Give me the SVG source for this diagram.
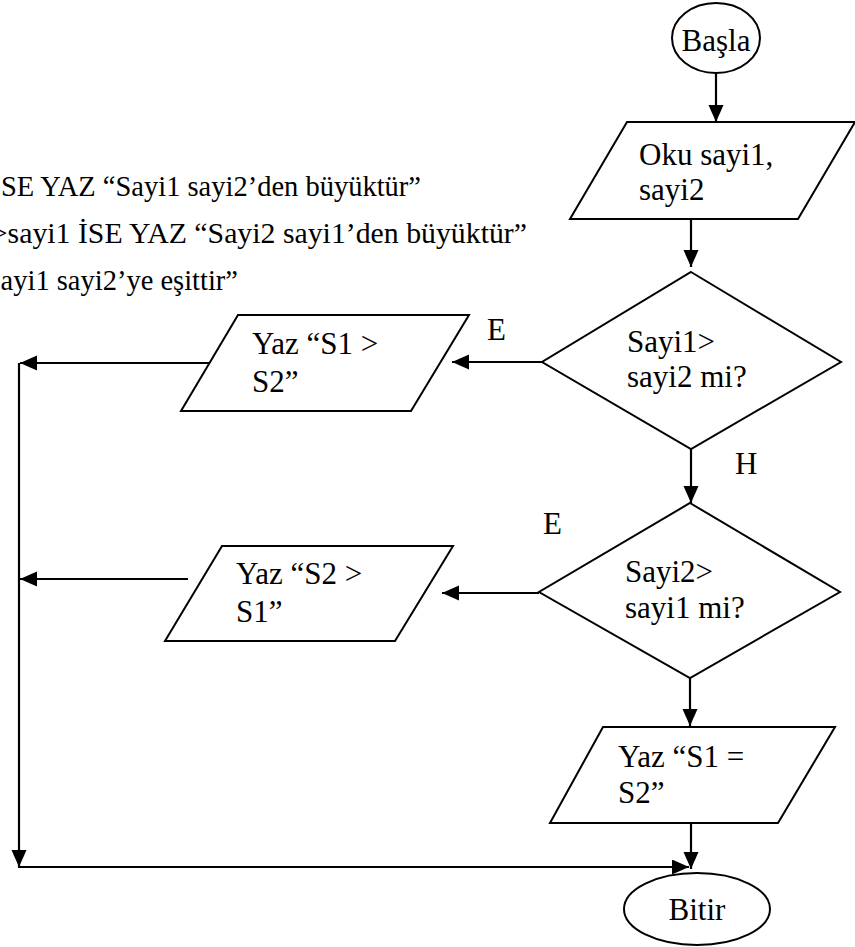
<svg xmlns="http://www.w3.org/2000/svg" width="855" height="947" viewBox="0 0 855 947">
<style>
.s{fill:#fff;stroke:#000;stroke-width:2}
.c{fill:none;stroke:#000;stroke-width:2.2}
.t{font-size:31px}
.m{font-size:28.5px}
</style>
<defs>
<marker id="ah" markerUnits="userSpaceOnUse" markerWidth="18" markerHeight="16" refX="17" refY="7.5" orient="auto">
<path d="M0,0 L17,7.5 L0,15 z" fill="#000"/>
</marker>
</defs>
<rect width="855" height="947" fill="#fff"/>
<g font-family="'Liberation Serif', 'Times New Roman', 'DejaVu Serif', serif" fill="#000">
<g id="notes">
<text class="m" x="421" y="196" text-anchor="end">SE YAZ “Sayi1 sayi2’den büyüktür”</text>
<text x="527" y="243" text-anchor="end" style="font-size:29.8px">&gt;sayi1 İSE YAZ “Sayi2 sayi1’den büyüktür”</text>
<text class="m" x="238" y="290" text-anchor="end">ayi1 sayi2’ye eşittir”</text>
</g>
<g id="connectors">
<path class="c" d="M716,73 V122" marker-end="url(#ah)"/>
<path class="c" d="M691,219 V267" marker-end="url(#ah)"/>
<path class="c" d="M542,362 H452" marker-end="url(#ah)"/>
<path class="c" d="M210,363 H20" marker-end="url(#ah)"/>
<path class="c" d="M19,363 V867" marker-end="url(#ah)"/>
<path class="c" d="M691,449 V503" marker-end="url(#ah)"/>
<path class="c" d="M539,593 H442" marker-end="url(#ah)"/>
<path class="c" d="M188,579 H20" marker-end="url(#ah)"/>
<path class="c" d="M690,678 V726" marker-end="url(#ah)"/>
<path class="c" d="M691,823 V869" marker-end="url(#ah)"/>
<path class="c" d="M18,867 H689" marker-end="url(#ah)"/>
</g>
<g id="label-E1"><text class="t" x="487" y="340">E</text></g>
<g id="label-H"><text class="t" x="735" y="474">H</text></g>
<g id="label-E2"><text class="t" x="543" y="534">E</text></g>
<g id="start">
<ellipse class="s" cx="716" cy="38" rx="44" ry="35"/>
<text class="t" x="716" y="51" text-anchor="middle">Başla</text>
</g>
<g id="read">
<polygon class="s" points="627,122 855,122 798,219 570,219"/>
<text class="t" x="639" y="165">Oku sayi1,</text>
<text class="t" x="639" y="200">sayi2</text>
</g>
<g id="decision1">
<polygon class="s" points="691,272 841,362 691,449 542,362"/>
<text class="t" x="627" y="352">Sayi1&gt;</text>
<text class="t" x="627" y="387">sayi2 mi?</text>
</g>
<g id="out1">
<polygon class="s" points="238,315 469,315 411,411 181,411"/>
<text class="t" x="252" y="354">Yaz “S1 &gt;</text>
<text class="t" x="252" y="392">S2”</text>
</g>
<g id="decision2">
<polygon class="s" points="690,503 840,592 690,678 539,592"/>
<text class="t" x="625" y="582">Sayi2&gt;</text>
<text class="t" x="625" y="618">sayi1 mi?</text>
</g>
<g id="out2">
<polygon class="s" points="222,546 453,546 395,641 165,641"/>
<text class="t" x="236" y="584">Yaz “S2 &gt;</text>
<text class="t" x="236" y="622">S1”</text>
</g>
<g id="out3">
<polygon class="s" points="603,727 835,727 778,823 550,823"/>
<text class="t" x="618" y="767">Yaz “S1 =</text>
<text class="t" x="618" y="803">S2”</text>
</g>
<g id="end">
<ellipse class="s" cx="697" cy="909" rx="73" ry="36"/>
<text class="t" x="697" y="920" text-anchor="middle">Bitir</text>
</g>
</g>
</svg>
